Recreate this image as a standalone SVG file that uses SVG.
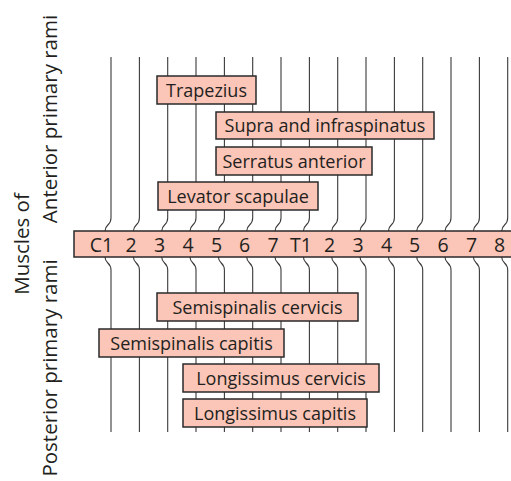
<svg xmlns="http://www.w3.org/2000/svg" width="511" height="481" viewBox="0 0 511 481">
<defs>
<style>
.ln{fill:none;stroke:#3a3a3a;stroke-width:1.1}
.box{fill:#fbc5b7;stroke:#2a2a2a;stroke-width:1.5}
.bt{font-family:"Open Sans","Liberation Sans",sans-serif;font-size:18px;fill:#231f20;text-anchor:middle}
.seg{font-family:"Open Sans","Liberation Sans",sans-serif;font-size:19.5px;fill:#231f20;text-anchor:middle}
.side{font-family:"Open Sans","Liberation Sans",sans-serif;font-size:20.5px;fill:#231f20;text-anchor:middle}
</style>
<path id="top" class="ln" d="M0,57 V218 C0,226 -6,224 -6,231"/>
<path id="bot" class="ln" d="M-6,257 C-6,264 0,262 0,270 V432"/>
</defs>
<g id="connectors">
<use href="#top" x="111"/><use href="#top" x="139.4"/><use href="#top" x="167.7"/><use href="#top" x="196"/><use href="#top" x="224.4"/><use href="#top" x="252.7"/><use href="#top" x="281"/><use href="#top" x="309.4"/><use href="#top" x="337.7"/><use href="#top" x="366"/><use href="#top" x="394.4"/><use href="#top" x="422.7"/><use href="#top" x="451"/><use href="#top" x="479.4"/><use href="#top" x="507.7"/>
<use href="#bot" x="111"/><use href="#bot" x="139.4"/><use href="#bot" x="167.7"/><use href="#bot" x="196"/><use href="#bot" x="224.4"/><use href="#bot" x="252.7"/><use href="#bot" x="281"/><use href="#bot" x="309.4"/><use href="#bot" x="337.7"/><use href="#bot" x="366"/><use href="#bot" x="394.4"/><use href="#bot" x="422.7"/><use href="#bot" x="451"/><use href="#bot" x="479.4"/><use href="#bot" x="507.7"/>
</g>
<g id="segments">
<rect class="box" x="74" y="231" width="445" height="26"/>
<text class="seg" y="252"><tspan x="101.5">C1</tspan><tspan x="131">2</tspan><tspan x="159.5">3</tspan><tspan x="188">4</tspan><tspan x="216.5">5</tspan><tspan x="244.5">6</tspan><tspan x="273">7</tspan><tspan x="301">T1</tspan><tspan x="329.5">2</tspan><tspan x="358">3</tspan><tspan x="386.5">4</tspan><tspan x="414.5">5</tspan><tspan x="443">6</tspan><tspan x="471.5">7</tspan><tspan x="499.5">8</tspan></text>
</g>
<g id="trapezius"><rect class="box" x="157" y="76" width="99" height="28"/><text class="bt" x="206.5" y="96.5">Trapezius</text></g>
<g id="supra"><rect class="box" x="216" y="112" width="218" height="27"/><text class="bt" x="325" y="132">Supra and infraspinatus</text></g>
<g id="serratus"><rect class="box" x="216" y="147" width="156" height="28"/><text class="bt" x="294" y="167.5">Serratus anterior</text></g>
<g id="levator"><rect class="box" x="158" y="182" width="160" height="28"/><text class="bt" x="238" y="202.5">Levator scapulae</text></g>
<g id="semi-cervicis"><rect class="box" x="157" y="293" width="201" height="28"/><text class="bt" x="257.5" y="313.5">Semispinalis cervicis</text></g>
<g id="semi-capitis"><rect class="box" x="99" y="329" width="185" height="28"/><text class="bt" x="191.5" y="349.5">Semispinalis capitis</text></g>
<g id="long-cervicis"><rect class="box" x="183" y="364" width="196" height="28"/><text class="bt" x="281" y="384.5">Longissimus cervicis</text></g>
<g id="long-capitis"><rect class="box" x="183" y="399" width="184" height="28"/><text class="bt" x="275" y="419.5">Longissimus capitis</text></g>
<g id="side-labels">
<text class="side" transform="translate(29,244) rotate(-90)">Muscles of</text>
<text class="side" transform="translate(57,119) rotate(-90)">Anterior primary rami</text>
<text class="side" transform="translate(57,368) rotate(-90)">Posterior primary rami</text>
</g>
</svg>
